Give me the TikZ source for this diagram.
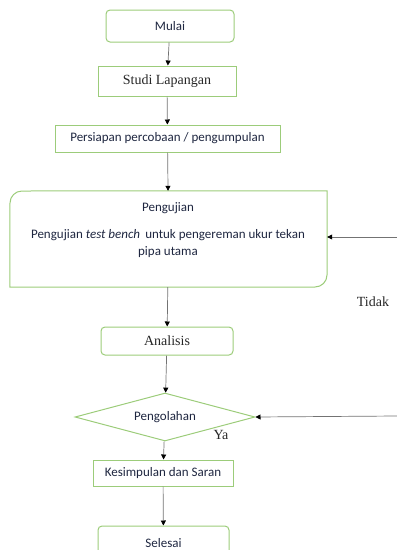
\documentclass[tikz,border=0pt]{standalone}
\usepackage{fontspec}
\setmainfont{Carlito}
\newfontfamily\serif{Liberation Serif}
\usetikzlibrary{shapes.geometric,arrows.meta}
\definecolor{hijau}{HTML}{9CCC7A}
\definecolor{tinta}{HTML}{1E2640}
\tikzset{
  kotak/.style={draw=hijau, line width=1pt, text=tinta, inner sep=0pt,
    font=\fontsize{13}{15}\selectfont},
  bulat/.style={kotak, rounded corners=4pt},
  panah/.style={draw=black!55, line width=0.7pt, -{Triangle[black, length=5pt, width=5pt]}},
  teks/.style={font=\serif\fontsize{14}{16}\selectfont, text=black!85}
}

\begin{document}
\begin{tikzpicture}[x=1pt, y=1pt]
    \useasboundingbox (0,0) rectangle (397,-550);
    % kotak-kotak
    \node[bulat, minimum width=128pt, minimum height=32pt] (mulai) at (170,-26) {Mulai};
    \node[kotak, minimum width=138pt, minimum height=30pt, teks] (studi) at (167,-81) {Studi Lapangan};
    \node[kotak, minimum width=225pt, minimum height=27pt] (siap) at (167.5,-138.5) {Persiapan percobaan / pengumpulan};
    \node[minimum width=317pt, minimum height=96pt, inner sep=0pt] (uji) at (168.5,-239) {};
    \draw[draw=hijau, line width=1pt] (uji.north east) -- (22,-191) arc (90:180:12) -- (uji.south west)
        -- (315,-287) arc (270:360:12) -- cycle;
    \node[text=tinta, font=\fontsize{13}{15}\selectfont] (judul) at (168,-208) {Pengujian};
    \node[text=tinta, font=\fontsize{13}{17}\selectfont, align=center] (isi) at (168,-243.5)
        {Pengujian \textit{test bench}\, untuk pengereman ukur tekan\\pipa utama};
    \node[bulat, minimum width=132pt, minimum height=28pt, teks] (analisis) at (167,-341) {Analisis};
    \node[kotak, shape=diamond, aspect=3.75, minimum width=180pt, minimum height=48pt] (olah) at (165,-417) {Pengolahan};
    \node[kotak, minimum width=140pt, minimum height=26pt] (simpul) at (163,-473) {Kesimpulan dan Saran};
    \node[bulat, minimum width=131pt, minimum height=34pt] (selesai) at (163.5,-543) {Selesai};
    % label
    \node[teks] (tidak) at (373,-302) {Tidak};
    \node[teks] (ya) at (221,-435) {Ya};
    % panah
    \coordinate (masuk1) at (397,-237);
    \coordinate (masuk2) at (397,-416);
    \draw[panah] (mulai) -- (studi);
    \draw[panah] (studi) -- (siap);
    \draw[panah] (siap) -- (uji);
    \draw[panah] (uji) -- (analisis);
    \draw[panah] (analisis) -- (olah);
    \draw[panah] (olah) -- (simpul);
    \draw[panah] (simpul) -- (selesai);
    \draw[panah] (masuk1) -- (masuk1 -| uji.east);
    \draw[panah] (masuk2) -- (olah.east);
\end{tikzpicture}
\end{document}
